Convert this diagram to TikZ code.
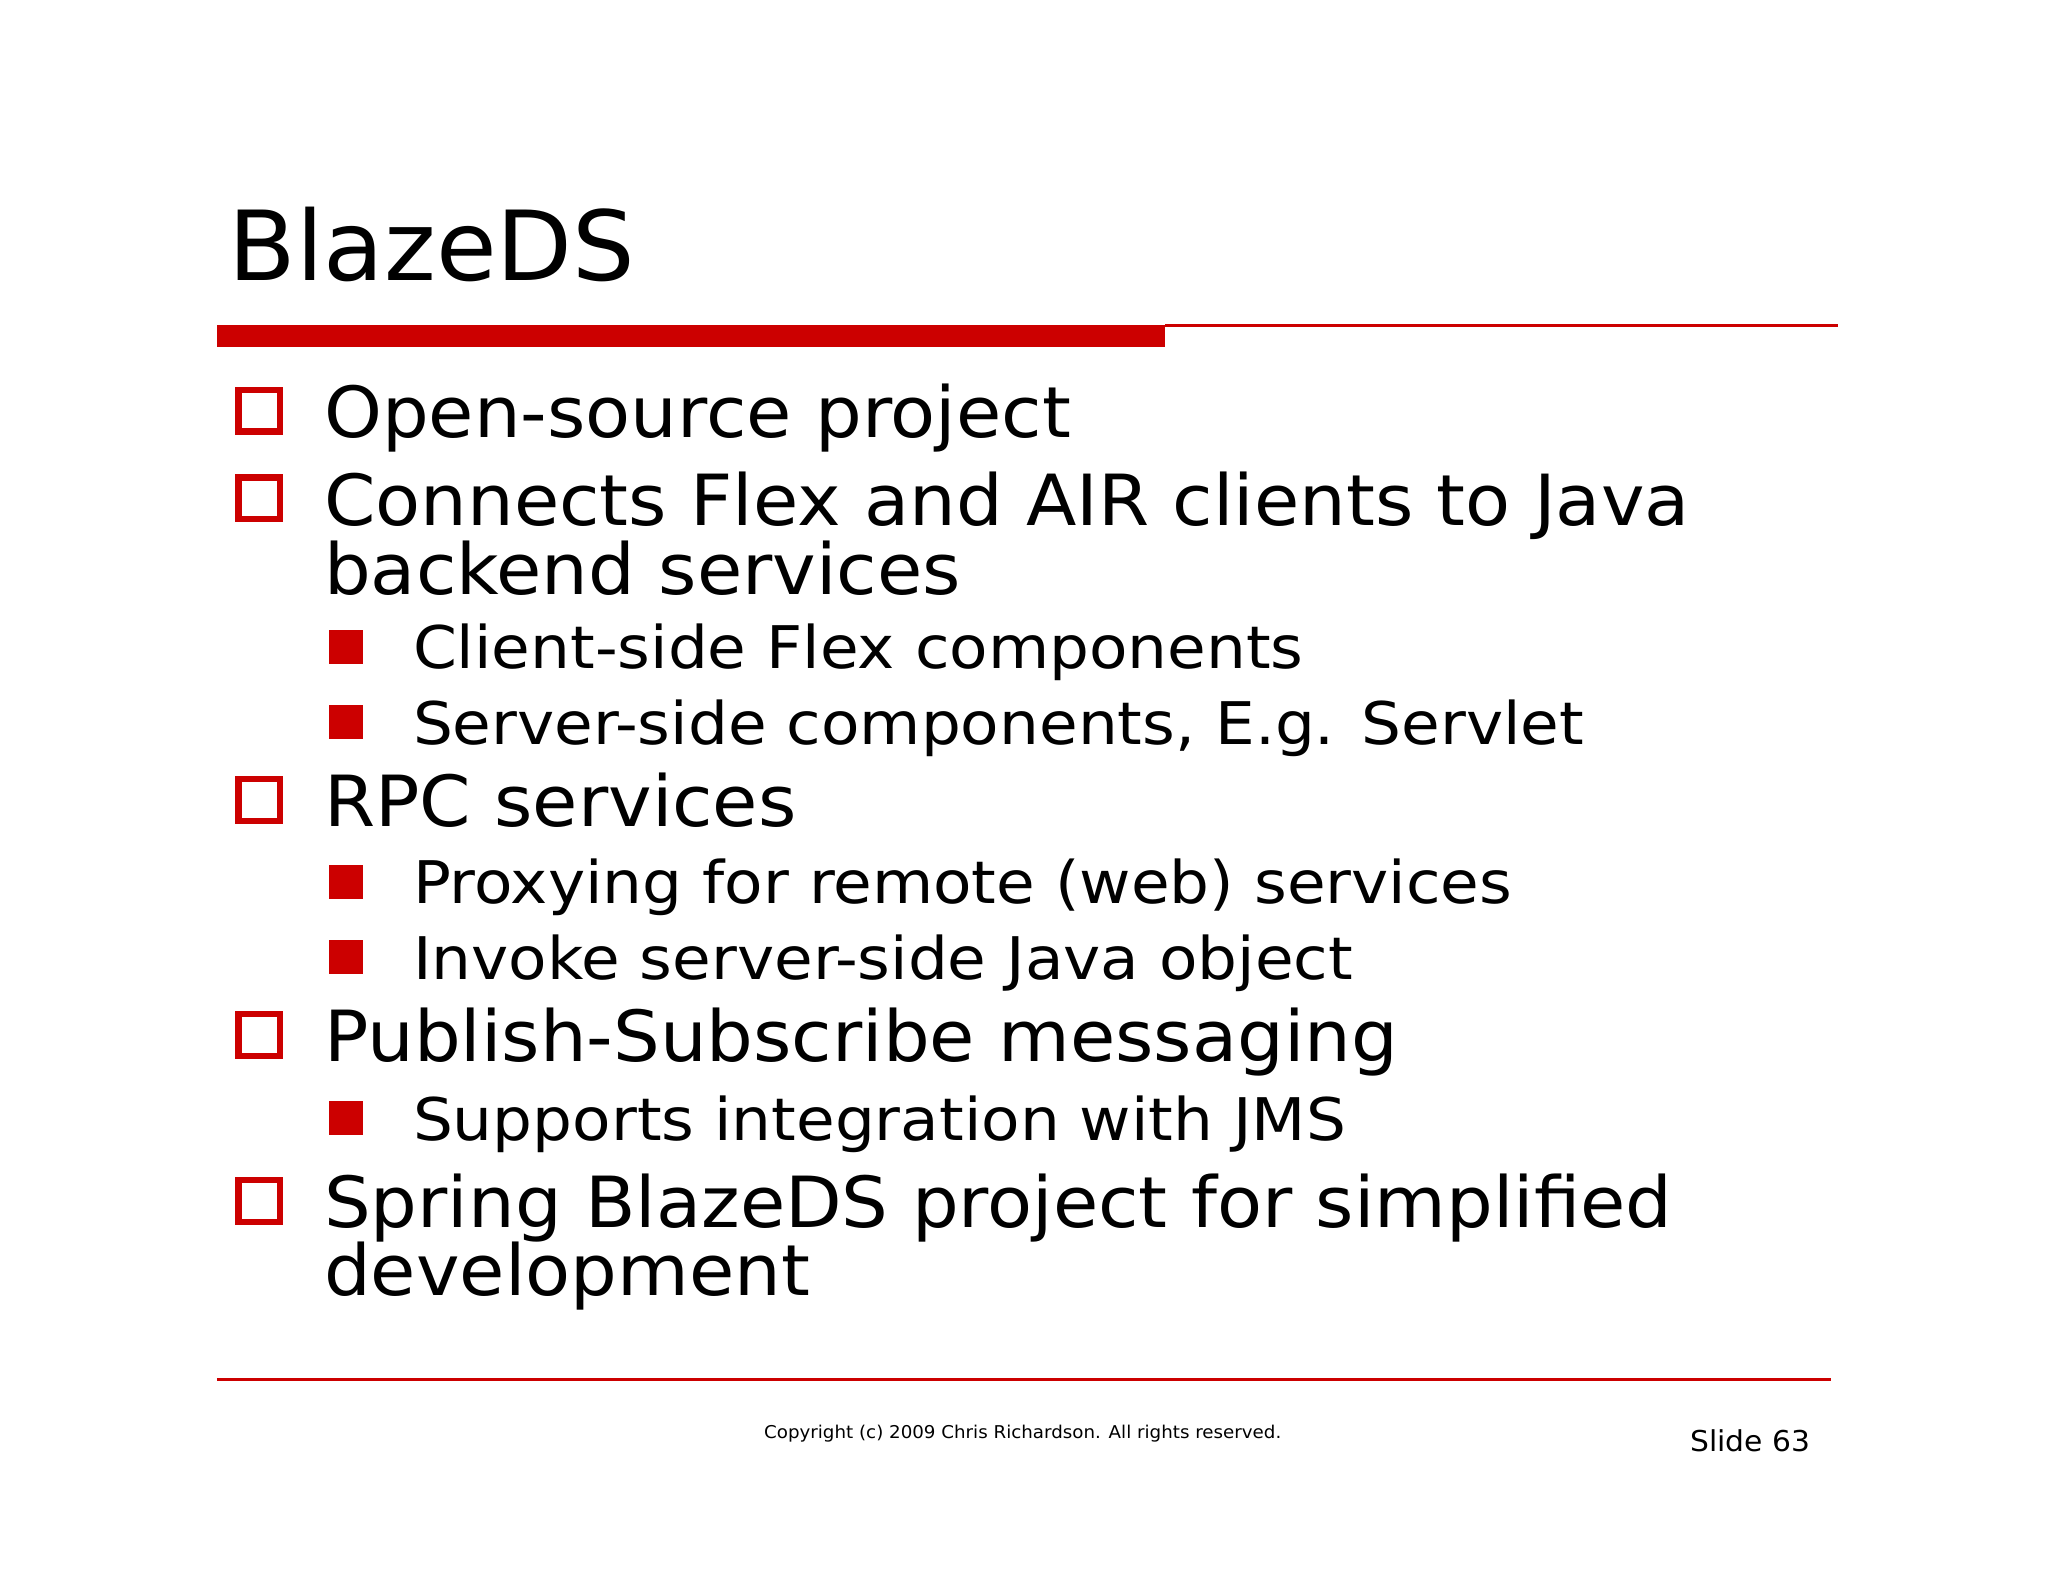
\documentclass[tikz,border=0pt]{standalone}
\usepackage{fontspec}
\setmainfont{DejaVu Sans}
\newfontfamily\fone[FakeStretch=1.044]{DejaVu Sans}
\newfontfamily\ftwo[FakeStretch=1.07]{DejaVu Sans}
\newfontfamily\ftit[FakeStretch=1.02]{DejaVu Sans}
\newfontfamily\fcop[FakeStretch=1.035]{DejaVu Sans}
\definecolor{sred}{RGB}{204,0,0}
\begin{document}
\begin{tikzpicture}[x=1pt,y=-1pt,
  lone/.style={anchor=base west,inner sep=0,font=\fone\fontsize{54}{60}\selectfont},
  ltwo/.style={anchor=base west,inner sep=0,font=\ftwo\fontsize{45}{50}\selectfont},
  hbox/.style={draw=sred,line width=5pt,fill=white},
  fbox/.style={fill=sred}]
\useasboundingbox (0,0) rectangle (1568,1211);
\node[anchor=base west,inner sep=0,font=\ftit\fontsize{74}{80}\selectfont] (title) at (175,215) {BlazeDS};
\fill[sred] (166,249) rectangle (892,266);
\draw[sred,line width=2pt] (892,249) -- (1407,249);
% level 1
\foreach \y/\t in {335/Open-source project,402/Connects Flex and AIR clients to Java,633/RPC services,813/Publish-Subscribe messaging,940/Spring BlazeDS project for simplified}{
  \draw[hbox] (182.5,\y-36.5) rectangle (214.5,\y-4.5);
  \node[lone] at (248,\y) {\t};
}
\node[lone] (b1) at (248,455) {backend services};
\node[lone] (b2) at (248,992) {development};
% level 2
\foreach \y/\t in {512/Client-side Flex components,570/{Server-side components, E.g. Servlet},692/Proxying for remote (web) services,750/Invoke server-side Java object,873/Supports integration with JMS}{
  \fill[sred] (252,\y-30) rectangle (278,\y-4);
  \node[ltwo] at (316,\y) {\t};
}
\draw[sred,line width=2pt] (166,1056) -- (1402,1056);
\node[anchor=base,inner sep=0,font=\fcop\fontsize{13.5}{15}\selectfont] (copy) at (783,1101) {Copyright (c) 2009 Chris Richardson. All rights reserved.};
\node[anchor=base east,inner sep=0,font=\fcop\fontsize{22}{24}\selectfont] (slide) at (1386,1111) {Slide 63};
\end{tikzpicture}
\end{document}
